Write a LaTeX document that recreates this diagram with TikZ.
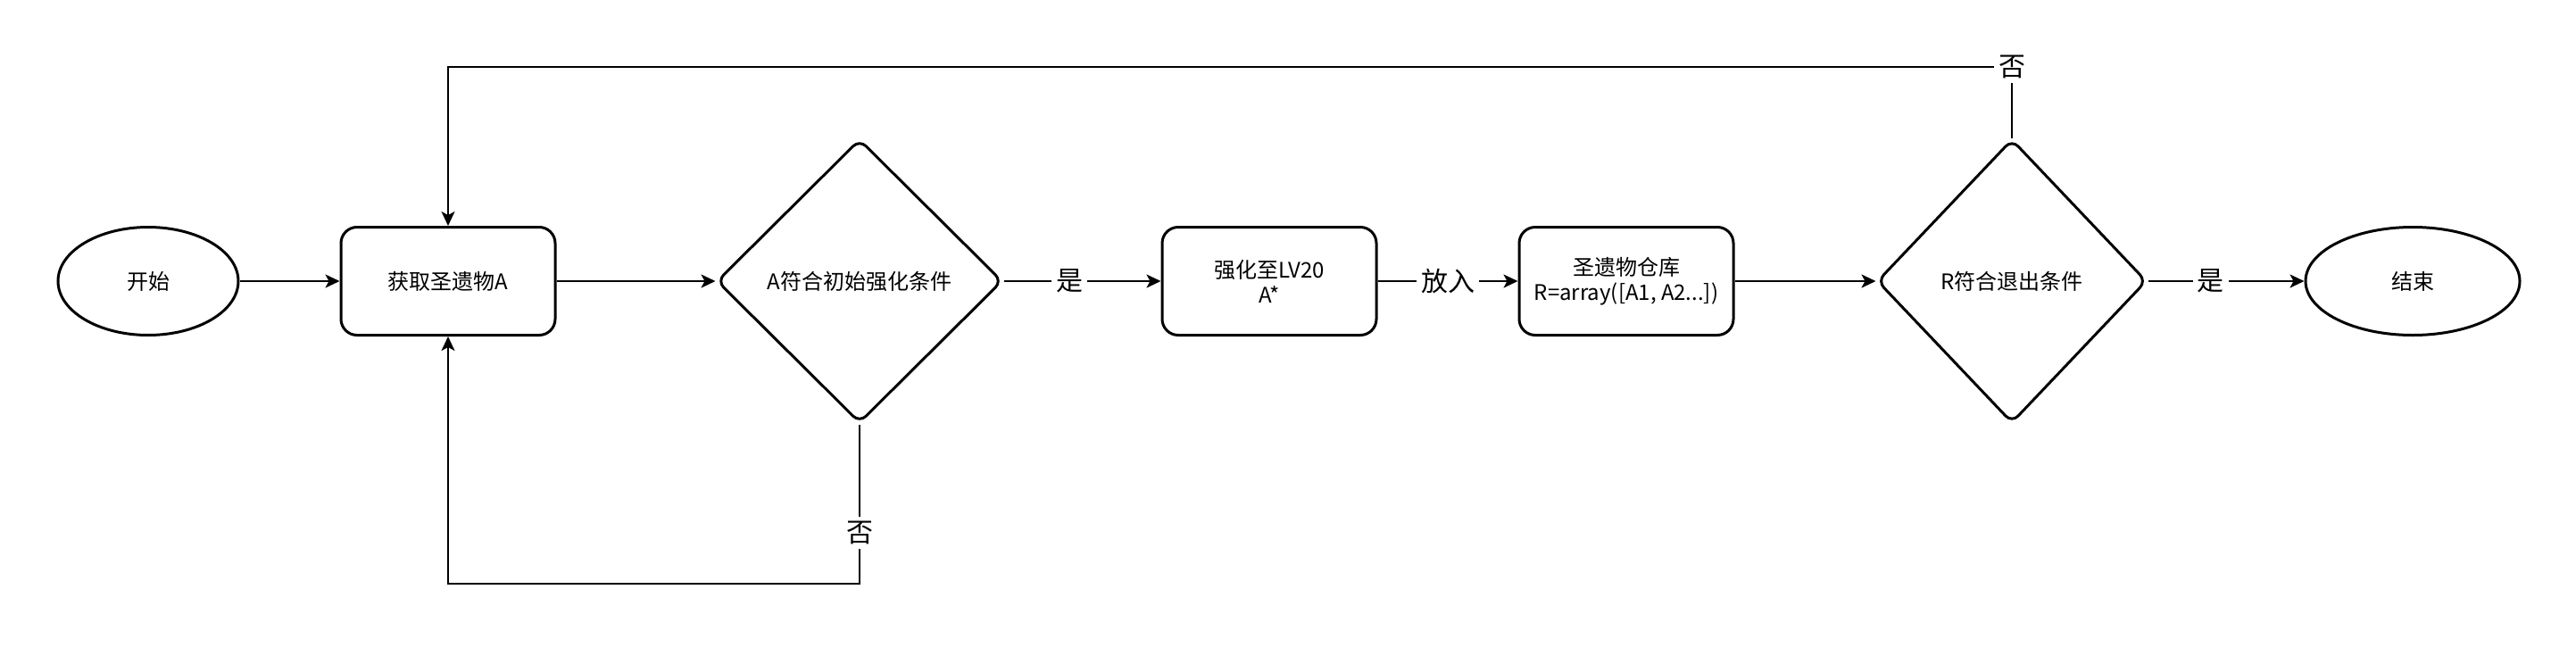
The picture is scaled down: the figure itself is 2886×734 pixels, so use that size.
\documentclass[tikz,border=0pt]{standalone}
\usepackage{fontspec}
\setmainfont{Noto Sans CJK SC}
\usetikzlibrary{shapes.geometric,arrows.meta}

\begin{document}
\begin{tikzpicture}[x=0.5pt,y=-0.5pt,
  term/.style={ellipse,draw,line width=1.5pt,minimum height=60.5pt,inner sep=0pt,font=\fontsize{12}{14}\selectfont},
  proc/.style={rectangle,draw,line width=1.5pt,rounded corners=9pt,minimum width=120pt,minimum height=60.5pt,align=center,font=\fontsize{12}{14}\selectfont},
  cond/.style={diamond,draw,line width=1.5pt,rounded corners=5pt,minimum height=159pt,inner sep=0pt,font=\fontsize{12}{14}\selectfont},
  conn/.style={line width=1pt,-{Stealth[length=8pt,width=7.5pt,inset=2pt]}},
  lbl/.style={fill=white,inner sep=2.5pt,font=\fontsize{15}{18}\selectfont}]
\useasboundingbox (0,0) rectangle (2886,734);
% nodes
\node[term,minimum width=101pt] (start) at (166,315) {开始};
\node[proc] (get) at (502,315) {获取圣遗物A};
\node[cond,minimum width=160pt] (cond1) at (963,315) {A符合初始强化条件};
\node[proc] (boost) at (1422,315) {强化至LV20\\A*};
\node[proc] (store) at (1822,315) {圣遗物仓库\\R=array([A1, A2...])};
\node[cond,minimum width=151pt] (cond2) at (2254,315) {R符合退出条件};
\node[term,minimum width=120pt] (finish) at (2703,315) {结束};
\coordinate (topy) at (0,75);
\coordinate (lowy) at (0,654);
% main line
\draw[conn] (start) -- (get);
\draw[conn] (get) -- (cond1);
\draw[conn] (cond1) -- node[lbl,pos=0.42]{是} (boost);
\draw[conn] (boost) -- node[lbl]{放入} (store);
\draw[conn] (store) -- (cond2);
\draw[conn] (cond2) -- node[lbl,pos=0.4]{是} (finish);
% loops back
\draw[conn] (cond1.south) -- node[lbl,pos=0.68]{否} (cond1.south |- lowy) -| (get.south);
\draw[conn] (cond2.north) -- (cond2.north |- topy) node[lbl]{否} -| (get.north);
\end{tikzpicture}
\end{document}
